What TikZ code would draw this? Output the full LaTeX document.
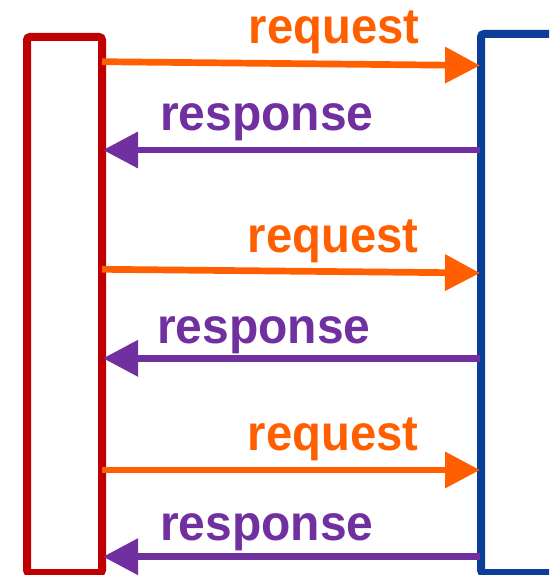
\documentclass[tikz,border=0pt]{standalone}
\usepackage{fontspec}
\setmainfont{Liberation Sans}
\newfontfamily\reqfont{Liberation Sans}[FakeStretch=0.945]
\newfontfamily\resfont{Liberation Sans}[FakeStretch=0.96]
\usetikzlibrary{arrows.meta}
\definecolor{cred}{HTML}{C00000}
\definecolor{cblue}{HTML}{0B3E99}
\definecolor{corange}{HTML}{FF5F00}
\definecolor{cpurple}{HTML}{7030A0}
\tikzset{
  lifebox/.style={draw, line width=8pt, rounded corners=3pt, inner sep=0pt, outer sep=0pt, anchor=north west},
  reqarrow/.style={draw=corange, line width=6.7pt, -{Triangle[length=35pt,width=35pt]}, color=corange},
  resarrow/.style={draw=cpurple, line width=6.7pt, -{Triangle[length=35pt,width=35pt]}, color=cpurple},
  reqtext/.style={text=corange, inner sep=0pt, anchor=base west, font=\reqfont\fontsize{50}{55}\selectfont\bfseries},
  restext/.style={text=cpurple, inner sep=0pt, anchor=base west, font=\resfont\fontsize{50}{55}\selectfont\bfseries}
}
\begin{document}
\begin{tikzpicture}[x=1pt,y=-1pt]
\useasboundingbox (0,0) rectangle (549,575);
\clip (0,0) rectangle (549,575);
\node[lifebox, draw=cred, minimum width=75pt, minimum height=536pt] (client) at (27,37) {};
\node[lifebox, draw=cblue, minimum width=100pt, minimum height=539pt] (server) at (481,34) {};
% request / response coordinates
\coordinate (q1s) at (102,61.7);
\coordinate (q1e) at (480,65.5);
\coordinate (r1s) at (480,150);
\coordinate (r1e) at (103,150);
\coordinate (q2s) at (102,269.3);
\coordinate (q2e) at (480,273);
\coordinate (r2s) at (480,358.3);
\coordinate (r2e) at (103,358.3);
\coordinate (q3s) at (102,470);
\coordinate (q3e) at (480,470);
\coordinate (r3s) at (480,556.7);
\coordinate (r3e) at (103,556.7);
\draw[reqarrow] (q1s) -- (q1e);
\draw[resarrow] (r1s) -- (r1e);
\draw[reqarrow] (q2s) -- (q2e);
\draw[resarrow] (r2s) -- (r2e);
\draw[reqarrow] (q3s) -- (q3e);
\draw[resarrow] (r3s) -- (r3e);
\node[reqtext] (t1) at (248.5,44) {request};
\node[restext] (t2) at (160,131) {response};
\node[reqtext] (t3) at (247.5,252.7) {request};
\node[restext] (t4) at (157,343.5) {response};
\node[reqtext] (t5) at (247.5,450.5) {request};
\node[restext] (t6) at (160,540) {response};
\end{tikzpicture}
\end{document}
